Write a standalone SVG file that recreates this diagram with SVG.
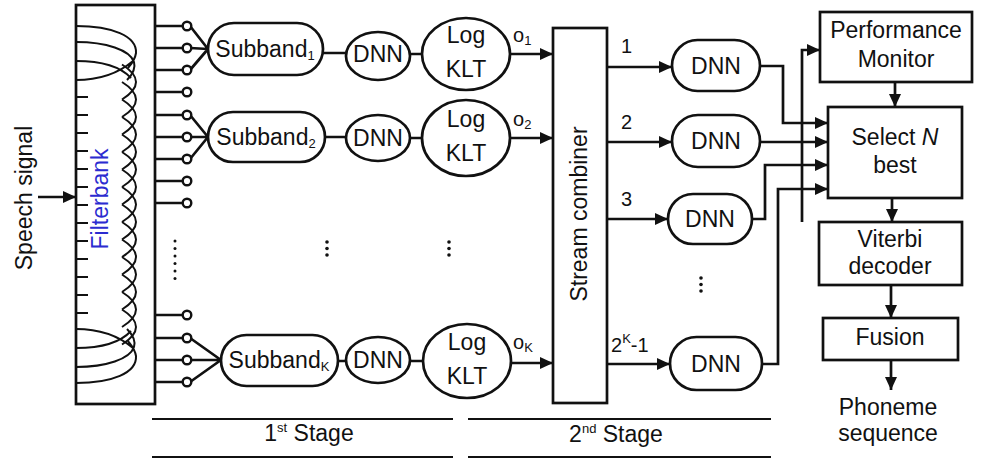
<svg xmlns="http://www.w3.org/2000/svg" width="986" height="458" viewBox="0 0 986 458">
<defs>
<marker id="ah" markerUnits="userSpaceOnUse" markerWidth="14" markerHeight="12" refX="13" refY="6" orient="auto"><path d="M0,0 L13,6 L0,12 z" fill="#111"/></marker>
<style>
.ln{stroke:#111;stroke-width:2.7;fill:none}
.thin{stroke:#111;stroke-width:2;fill:none}
.box{fill:#fff;stroke:#111;stroke-width:2.7}
.arr{stroke:#111;stroke-width:2.7;fill:none;marker-end:url(#ah)}
.t{font-family:"Liberation Sans",Arial,sans-serif;font-size:23px;fill:#111;text-anchor:middle}
.lb{font-family:"Liberation Sans",Arial,sans-serif;font-size:20px;fill:#111}
.dot{fill:#111}
</style>
</defs>
<rect width="986" height="458" fill="#fff"/>

<!-- Speech signal input -->
<g id="speech">
<text class="t" transform="translate(32,198) rotate(-90)">Speech signal</text>
</g>

<!-- Filterbank -->
<g id="filterbank">
<rect class="box" x="76" y="5" width="79" height="399"/>
<path class="thin" d="M76,97 H88 M76,115 H88 M76,133 H88 M76,151 H88 M76,169 H88 M76,187 H88 M76,205 H88 M76,223 H88 M76,241 H88 M76,259 H88 M76,277 H88 M76,295 H88 M76,313 H88"/>
<path class="thin" d="M122,64.5 Q150,82 122,99.5 M122,82 Q150,99.5 122,117 M122,99.5 Q150,117 122,134.5 M122,117 Q150,134.5 122,152 M122,134.5 Q150,152 122,169.5 M122,152 Q150,169.5 122,187 M122,169.5 Q150,187 122,204.5 M122,187 Q150,204.5 122,222 M122,204.5 Q150,222 122,239.5 M122,222 Q150,239.5 122,257 M122,239.5 Q150,257 122,274.5 M122,257 Q150,274.5 122,292 M122,274.5 Q150,292 122,309.5 M122,292 Q150,309.5 122,327 M122,309.5 Q150,327 122,344.5"/>
<path class="thin" d="M76,26 C112,26 137,36 136,53 C135,60 132,63 128,68 M76,42 C106,42 130,50 134,62 C136,69 132,75 127,80 M76,61 C100,61 120,66 131,78 M76,80 C100,80 120,72 133,61"/>
<path class="thin" d="M76,383 C112,383 137,373 136,356 C135,349 132,346 128,341 M76,367 C106,367 130,359 134,347 C136,340 132,334 127,329 M76,348 C100,348 120,343 131,331 M76,329 C100,329 120,337 133,348"/>
<text class="t" style="fill:#2b2bd0" transform="translate(108,199) rotate(-90)">Filterbank</text>
</g>

<!-- Connectors -->
<g id="connectors">
<path class="arr" d="M38,197 H76"/>
<path class="ln" d="M155,26 H183 M155,48 H183 M155,70 H183 M155,92 H183 M155,115 H183 M155,137 H183 M155,159 H183 M155,181 H183 M155,203 H183 M155,315 H183 M155,338 H183 M155,360 H183 M155,382 H183"/>
<path class="ln" d="M190,26 L208,49 M190,48 L208,49 M190,70 L208,49 M190,115 L208,137 M190,137 L208,137 M190,159 L208,137 M190,338 L221,360 M190,360 L221,360 M190,382 L221,360"/>
<path class="ln" d="M323,53 H346 M410,54 H422 M325,137 H346 M410,138 H422 M338,361 H346 M410,361 H423"/>
<path class="arr" d="M510,54 H553"/>
<path class="arr" d="M510,138 H553"/>
<path class="arr" d="M511,363 H553"/>
<path class="arr" d="M607,67 H672"/>
<path class="arr" d="M607,142 H672"/>
<path class="arr" d="M607,219 H668"/>
<path class="arr" d="M607,364 H670"/>
<path class="arr" d="M760,66 H783 V123 H828"/>
<path class="arr" d="M760,142 H828"/>
<path class="arr" d="M752,219 H765 V165 H828"/>
<path class="arr" d="M762,364 H778 V189 H828"/>
<path class="arr" d="M802,222 V50 H820"/>
<path class="arr" d="M895,82 V107"/>
<path class="arr" d="M892,198 V222"/>
<path class="arr" d="M891,285 V318"/>
<path class="arr" d="M891,360 V390"/>
</g>

<!-- output circles -->
<g id="taps" fill="#fff" stroke="#111" stroke-width="2.4">
<circle cx="187" cy="26" r="4.3"/><circle cx="187" cy="48" r="4.3"/><circle cx="187" cy="70" r="4.3"/><circle cx="187" cy="92" r="4.3"/>
<circle cx="187" cy="115" r="4.3"/><circle cx="187" cy="137" r="4.3"/><circle cx="187" cy="159" r="4.3"/><circle cx="187" cy="181" r="4.3"/><circle cx="187" cy="203" r="4.3"/>
<circle cx="187" cy="315" r="4.3"/><circle cx="187" cy="338" r="4.3"/><circle cx="187" cy="360" r="4.3"/><circle cx="187" cy="382" r="4.3"/>
</g>

<!-- dots -->
<g id="ellipsis" class="dot">
<circle cx="175" cy="241" r="1.5"/><circle cx="175" cy="248.5" r="1.5"/><circle cx="175" cy="256" r="1.5"/><circle cx="175" cy="263.5" r="1.5"/><circle cx="175" cy="271" r="1.5"/><circle cx="175" cy="278.5" r="1.5"/>
<circle cx="327" cy="242" r="1.8"/><circle cx="327" cy="248.5" r="1.8"/><circle cx="327" cy="255" r="1.8"/>
<circle cx="449" cy="242" r="1.8"/><circle cx="449" cy="248.5" r="1.8"/><circle cx="449" cy="255" r="1.8"/>
<circle cx="701" cy="278" r="1.8"/><circle cx="701" cy="284.5" r="1.8"/><circle cx="701" cy="291" r="1.8"/>
</g>

<!-- Stage 1 row 1 -->
<g id="subband1"><rect class="box" x="208" y="23" width="115" height="52" rx="26"/><text class="t" x="265" y="57">Subband<tspan font-size="13" dy="3">1</tspan></text></g>
<g id="dnn1a"><ellipse class="box" cx="378" cy="56" rx="32" ry="24"/><text class="t" x="378" y="62">DNN</text></g>
<g id="klt1"><ellipse class="box" cx="466" cy="54" rx="44" ry="36"/><text class="t" x="466" y="43">Log</text><text class="t" x="466" y="77">KLT</text></g>
<!-- row 2 -->
<g id="subband2"><rect class="box" x="208" y="112" width="117" height="50" rx="25"/><text class="t" x="266" y="145">Subband<tspan font-size="13" dy="3">2</tspan></text></g>
<g id="dnn2a"><ellipse class="box" cx="378" cy="138" rx="32" ry="23"/><text class="t" x="378" y="146">DNN</text></g>
<g id="klt2"><ellipse class="box" cx="466" cy="138" rx="44" ry="38"/><text class="t" x="466" y="127">Log</text><text class="t" x="466" y="161">KLT</text></g>
<!-- row K -->
<g id="subbandK"><rect class="box" x="221" y="335" width="117" height="51" rx="25.5"/><text class="t" x="279" y="368">Subband<tspan font-size="13" dy="3">K</tspan></text></g>
<g id="dnnKa"><ellipse class="box" cx="378" cy="360" rx="32" ry="23"/><text class="t" x="378" y="368">DNN</text></g>
<g id="kltK"><ellipse class="box" cx="467" cy="361" rx="44" ry="37"/><text class="t" x="467" y="350">Log</text><text class="t" x="467" y="384">KLT</text></g>

<!-- o labels -->
<g id="olabels">
<text class="lb" x="513" y="42">o<tspan font-size="13" dy="3">1</tspan></text>
<text class="lb" x="513" y="126">o<tspan font-size="13" dy="3">2</tspan></text>
<text class="lb" x="513" y="349">o<tspan font-size="13" dy="3">K</tspan></text>
</g>

<!-- Stream combiner -->
<g id="combiner">
<rect class="box" x="553" y="28" width="54" height="375"/>
<text class="t" transform="translate(587,214) rotate(-90)">Stream combiner</text>
</g>

<g id="streamlabels">
<text class="lb" x="621" y="53">1</text>
<text class="lb" x="621" y="129">2</text>
<text class="lb" x="621" y="206">3</text>
<text class="lb" x="611" y="352">2<tspan font-size="13" dy="-9">K</tspan><tspan dy="9">-1</tspan></text>
</g>

<!-- Stage 2 DNNs -->
<g id="dnn2_1"><rect class="box" x="672" y="40" width="88" height="51" rx="25.5"/><text class="t" x="716" y="74">DNN</text></g>
<g id="dnn2_2"><rect class="box" x="672" y="115" width="88" height="52" rx="26"/><text class="t" x="716" y="149">DNN</text></g>
<g id="dnn2_3"><rect class="box" x="668" y="194" width="84" height="50" rx="25"/><text class="t" x="710" y="227">DNN</text></g>
<g id="dnn2_K"><rect class="box" x="670" y="337" width="92" height="53" rx="26.5"/><text class="t" x="716" y="372">DNN</text></g>

<!-- right column -->
<g id="perf"><rect class="box" x="820" y="12" width="152" height="70"/><text class="t" x="896" y="38">Performance</text><text class="t" x="896" y="67">Monitor</text></g>
<g id="select"><rect class="box" x="828" y="107" width="134" height="91"/><text class="t" x="895" y="145">Select <tspan font-style="italic">N</tspan></text><text class="t" x="895" y="173">best</text></g>
<g id="viterbi"><rect class="box" x="819" y="222" width="143" height="63"/><text class="t" x="890" y="247">Viterbi</text><text class="t" x="890" y="274">decoder</text></g>
<g id="fusion"><rect class="box" x="823" y="318" width="135" height="42"/><text class="t" x="890" y="345">Fusion</text></g>
<g id="output"><text class="t" x="888" y="415">Phoneme</text><text class="t" x="888" y="441">sequence</text></g>

<!-- stages -->
<g id="stages">
<path class="thin" d="M152,419 H453 M152,457 H453 M468,419 H771 M468,457 H771"/>
<text class="t" x="309" y="441">1<tspan font-size="13" dy="-9">st</tspan><tspan dy="9"> Stage</tspan></text>
<text class="t" x="616" y="442">2<tspan font-size="13" dy="-9">nd</tspan><tspan dy="9"> Stage</tspan></text>
</g>
</svg>
